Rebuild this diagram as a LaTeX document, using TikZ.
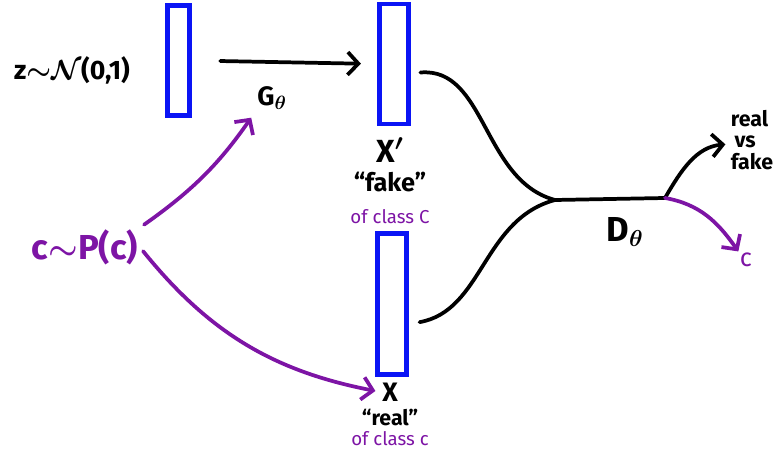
\documentclass[tikz,border=0pt]{standalone}
\usepackage{fontspec}
\setmainfont{Fira Sans}
\usetikzlibrary{arrows.meta}
\definecolor{penblue}{RGB}{10,20,245}
\definecolor{penpurple}{RGB}{125,20,165}

\begin{document}
\begin{tikzpicture}[
  x=0.75pt, y=0.75pt,
  vec/.style={draw=penblue,line width=3.6pt,minimum width=17pt,inner sep=0pt},
  ink/.style={line width=2.8pt,line cap=round},
  arr/.style={ink,-{Straight Barb[length=8pt,width=17pt]}},
  parr/.style={arr,draw=penpurple},
  big/.style={font=\bfseries\boldmath\fontsize{20}{22}\selectfont,inner sep=1pt},
  mid/.style={font=\bfseries\fontsize{19}{20}\selectfont,inner sep=1pt},
  tag/.style={text=penpurple,font=\fontsize{14}{15}\selectfont,inner sep=1pt},
  side/.style={font=\bfseries\fontsize{16}{16}\selectfont,align=left,inner sep=1pt}]

\useasboundingbox (0,0) rectangle (782,450);

% vectors
\node[vec,minimum height=83pt] (zvec) at (178.5,389.5) {};
\node[vec,minimum width=22pt,minimum height=90pt] (fake) at (394,386) {};
\node[vec,minimum width=22pt,minimum height=106pt] (real) at (392,146) {};

% inputs
\node[big] (z) at (72,380) {z$\mathord{\sim}\mathcal{N}$(0,1)};
\node[big,text=penpurple,font=\bfseries\boldmath\fontsize{26}{28}\selectfont] (c) at (85,203) {c$\sim$P(c)};

% labels
\node[big] (G) at (272,352) {G$_\theta$};
\node[big,font=\bfseries\boldmath\fontsize{24}{26}\selectfont] (xp) at (390,300) {X$'$};
\node[mid] (fk) at (390,268) {``fake''};
\node[tag] (fkc) at (390,233) {of class C};
\node[big] (x) at (390,58) {X};
\node[mid,font=\bfseries\fontsize{16}{17}\selectfont] (rl) at (390,32) {``real''};
\node[tag] (rlc) at (390,11) {of class c};
\node[big,font=\bfseries\boldmath\fontsize{26}{28}\selectfont] (D) at (625,218) {D$_\theta$};
\node[side] (rvf) at (752,310) {real\\\,vs\\fake};
\node[tag,font=\fontsize{19}{20}\selectfont] (cout) at (746,190) {c};

% generator and conditioning
\draw[arr,shorten <=21pt,shorten >=12pt] (zvec.east) -- (fake.west);
\draw[parr,shorten <=4pt,shorten >=6pt] (c.north east) to[bend right=10] (G.south west);
\draw[parr,shorten <=4pt,shorten >=4pt] (c.east) to[bend right=20] (x.west);

% discriminator
\coordinate (merge) at (555,250);
\coordinate (split) at (665,252);
\draw[ink,shorten <=7pt] ([yshift=-7pt]fake.east) to[out=5,in=165] (merge);
\draw[ink,shorten <=8pt] ([yshift=-15pt]real.east) to[out=10,in=195] (merge);
\draw[ink] (merge) -- (split);
\draw[arr,shorten >=3pt] (split) to[out=60,in=185] ([yshift=-3pt]rvf.west);
\draw[parr] (split) to[out=-10,in=125] (cout.north west);
\end{tikzpicture}
\end{document}
